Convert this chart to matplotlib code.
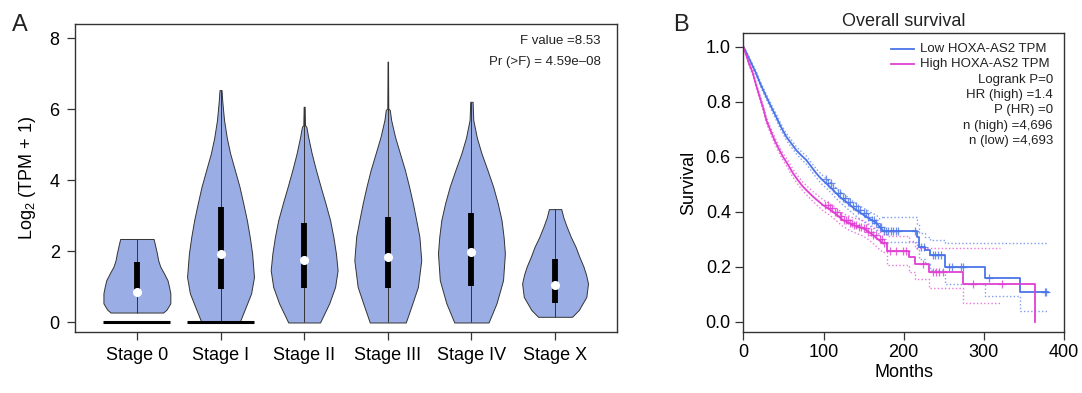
import numpy as np
import matplotlib
matplotlib.use("Agg")
import matplotlib.pyplot as plt

plt.rcParams["font.family"] = ["Liberation Sans", "DejaVu Sans"]
plt.rcParams["mathtext.fontset"] = "custom"
plt.rcParams["mathtext.rm"] = "Liberation Sans"

# ---- panel A: violin data (level, half-width) ----
stages = ["Stage 0", "Stage I", "Stage II", "Stage III", "Stage IV", "Stage X"]

v0_y = [0.28, 0.36, 0.54, 0.82, 1.00, 1.19, 1.40, 1.57, 1.75, 1.94, 2.15, 2.35]
v0_w = [0.314, 0.354, 0.40, 0.40, 0.385, 0.366, 0.32, 0.28, 0.255, 0.24, 0.22, 0.20]
v1_y = [0.00, 0.35, 0.82, 1.28, 1.94, 2.40, 2.88, 3.35, 3.82, 4.30, 4.76, 5.20, 5.70, 6.20, 6.54]
v1_w = [0.227, 0.287, 0.366, 0.40, 0.378, 0.35, 0.315, 0.272, 0.227, 0.17, 0.115, 0.075, 0.042, 0.022, 0.012]
v2_y = [0.00, 0.54, 1.00, 1.47, 1.94, 2.40, 2.88, 3.35, 3.82, 4.30, 4.76, 5.20, 5.51, 5.55, 6.07]
v2_w = [0.19, 0.30, 0.37, 0.40, 0.38, 0.35, 0.31, 0.255, 0.197, 0.14, 0.09, 0.05, 0.026, 0.01, 0.006]
v3_y = [0.00, 0.44, 1.00, 1.75, 2.41, 2.88, 3.35, 3.82, 4.29, 4.76, 5.23, 5.70, 5.98, 6.02, 6.70, 7.34]
v3_w = [0.215, 0.28, 0.36, 0.40, 0.378, 0.34, 0.30, 0.255, 0.205, 0.145, 0.086, 0.04, 0.024, 0.006, 0.004, 0.003]
v4_y = [0.00, 0.54, 1.19, 1.94, 2.40, 2.88, 3.35, 3.82, 4.30, 4.76, 5.20, 5.70, 6.21]
v4_w = [0.205, 0.30, 0.378, 0.40, 0.385, 0.36, 0.315, 0.26, 0.19, 0.12, 0.065, 0.022, 0.014]
v5_y = [0.16, 0.35, 0.72, 1.10, 1.35, 1.57, 1.85, 2.13, 2.40, 2.69, 2.95, 3.19]
v5_w = [0.203, 0.283, 0.374, 0.394, 0.37, 0.34, 0.29, 0.245, 0.19, 0.14, 0.10, 0.074]

q1 = [0.87, 0.93, 0.96, 0.96, 1.02, 0.54]
medians = [0.87, 1.94, 1.76, 1.85, 1.99, 1.05]
q3 = [1.71, 3.24, 2.79, 2.98, 3.07, 1.78]
zero_bar = [True, True, False, False, False, False]

# ---- panel B: Kaplan-Meier curves ----
low_t = [0, 2, 6, 10, 16, 22, 28.7, 35, 41, 47, 53.6, 60, 66, 72, 78.6, 85, 91, 97,
         103.5, 110, 116, 122, 128.5, 135, 141, 147, 153.4, 160, 166, 170, 174.6,
         216, 219, 227, 233, 251.6, 302, 345, 380]
low_s = [1.0, 0.99, 0.965, 0.94, 0.903, 0.86, 0.818, 0.78, 0.745, 0.708, 0.673, 0.648,
         0.624, 0.606, 0.588, 0.563, 0.54, 0.52, 0.503, 0.485, 0.467, 0.45, 0.436, 0.42,
         0.406, 0.394, 0.382, 0.37, 0.36, 0.345, 0.331, 0.307, 0.273, 0.26, 0.243, 0.2,
         0.159, 0.107, 0.107]
low_lo = [1.0, 0.988, 0.96, 0.934, 0.896, 0.852, 0.809, 0.77, 0.734, 0.697, 0.661, 0.635,
          0.611, 0.592, 0.573, 0.548, 0.524, 0.503, 0.486, 0.467, 0.448, 0.43, 0.415, 0.398,
          0.383, 0.37, 0.357, 0.344, 0.332, 0.316, 0.289, 0.262, 0.228, 0.21, 0.19, 0.136,
          0.092, 0.04, 0.04]
low_hi = [1.0, 0.992, 0.97, 0.946, 0.91, 0.868, 0.827, 0.79, 0.756, 0.719, 0.685, 0.661,
          0.637, 0.62, 0.603, 0.578, 0.556, 0.537, 0.52, 0.503, 0.486, 0.47, 0.457, 0.442,
          0.429, 0.418, 0.407, 0.396, 0.388, 0.374, 0.38, 0.355, 0.322, 0.31, 0.298, 0.285,
          0.285, 0.285, 0.285]
low_cens = [103, 106, 109, 112, 118, 121, 124, 127, 130, 133, 137, 140, 143, 146, 150,
            153, 156, 160, 163, 166, 170, 172, 176, 178, 181, 184, 187, 190, 193, 214,
            222, 225, 236, 239, 243, 247, 256, 260, 271, 274, 306, 376, 378]

high_t = [0, 3, 7, 12, 16, 20.4, 25, 28.7, 34, 39, 44, 49.5, 56, 62, 68, 74.5, 81, 87,
          93, 99.5, 106, 112, 118, 124.4, 131, 137, 143, 149.4, 156, 161.8, 168, 174.3,
          179, 207, 214, 232, 273.6, 320, 363.8]
high_s = [1.0, 0.975, 0.94, 0.903, 0.86, 0.818, 0.775, 0.733, 0.695, 0.66, 0.63, 0.60,
          0.57, 0.54, 0.515, 0.491, 0.472, 0.455, 0.44, 0.424, 0.412, 0.40, 0.385, 0.37,
          0.36, 0.352, 0.346, 0.34, 0.328, 0.315, 0.30, 0.285, 0.258, 0.236, 0.209, 0.18,
          0.136, 0.136, 0.0]
high_lo = [1.0, 0.97, 0.934, 0.896, 0.852, 0.809, 0.765, 0.722, 0.684, 0.648, 0.618,
           0.587, 0.556, 0.525, 0.5, 0.475, 0.455, 0.437, 0.421, 0.404, 0.391, 0.378,
           0.362, 0.346, 0.335, 0.326, 0.319, 0.312, 0.299, 0.285, 0.268, 0.252, 0.206,
           0.18, 0.154, 0.124, 0.067, np.nan, np.nan]
high_hi = [1.0, 0.98, 0.946, 0.91, 0.868, 0.827, 0.785, 0.744, 0.706, 0.672, 0.642,
           0.613, 0.584, 0.555, 0.53, 0.507, 0.489, 0.473, 0.459, 0.444, 0.433, 0.422,
           0.408, 0.394, 0.385, 0.378, 0.373, 0.368, 0.357, 0.345, 0.332, 0.318, 0.312,
           0.293, 0.27, 0.27, 0.27, np.nan, np.nan]
high_cens = [102, 105, 108, 111, 114, 117, 120, 122, 125, 128, 130, 133, 136, 138, 141,
             144, 147, 150, 153, 156, 159, 162, 165, 170, 173, 176, 183, 191, 199, 203,
             224, 236, 240, 244, 249, 287, 322]

# events are dense before this many months, so that part reads as a smooth curve
dense_until = 175

stats = ["Logrank P=0", "HR (high) =1.4", "P (HR) =0", "n (high) =4,696", "n (low) =4,693"]

violet = "#9aaee5"
edge = "#333333"
blue = "#4a74e8"
pink = "#e040d2"

fig = plt.figure(figsize=(10.82, 3.93), dpi=100)

# ================= panel A =================
axA = fig.add_axes([0.0693, 0.155, 0.5009, 0.784])
profiles = [(v0_y, v0_w), (v1_y, v1_w), (v2_y, v2_w), (v3_y, v3_w), (v4_y, v4_w), (v5_y, v5_w)]
for i, (vy, vw) in enumerate(profiles):
    vy = np.array(vy)
    vw = np.array(vw)
    axA.fill_betweenx(vy, i - vw, i + vw, facecolor=violet, edgecolor=edge, lw=0.7, zorder=2)
    axA.vlines(i, vy.min(), vy.max(), color=edge, lw=0.7, zorder=3)
    axA.vlines(i, q1[i], q3[i], color="black", lw=4.2, zorder=4)
    axA.plot(i, medians[i], "o", color="white", ms=5.5, mec="white", zorder=5)
    if zero_bar[i]:
        axA.hlines(0.02, i - 0.4, i + 0.4, color="black", lw=2.2, zorder=4)

axA.set_xlim(-0.74, 5.74)
axA.set_ylim(-0.27, 8.4)
axA.set_xticks(range(len(stages)))
axA.set_xticklabels(stages)
axA.set_yticks([0, 2, 4, 6, 8])
axA.set_ylabel(r"Log$_\mathregular{2}$ (TPM + 1)", fontsize=13, labelpad=8)
axA.tick_params(labelsize=13, length=6, width=0.9, color=edge, pad=5)
for sp in axA.spines.values():
    sp.set_color(edge)
    sp.set_linewidth(1.0)
axA.text(0.97, 0.945, "F value =8.53", transform=axA.transAxes, ha="right", va="center",
         fontsize=9.5, color="#222222")
axA.text(0.97, 0.878, "Pr (>F) = 4.59e\u201308", transform=axA.transAxes, ha="right",
         va="center", fontsize=9.5, color="#222222")
fig.text(0.011, 0.92, "A", fontsize=17, color="#222222")

# ================= panel B =================
axB = fig.add_axes([0.687, 0.156, 0.2964, 0.7593])
for t, s, lo, hi, cens, col in [(low_t, low_s, low_lo, low_hi, low_cens, blue),
                                (high_t, high_s, high_lo, high_hi, high_cens, pink)]:
    t = np.array(t)
    s = np.array(s)
    lo = np.array(lo)
    hi = np.array(hi)
    k = np.searchsorted(t, dense_until)
    dot = (0, (1, 1.6))
    for yv, style, w, a in [(lo, dot, 1.0, 0.7), (hi, dot, 1.0, 0.7), (s, "-", 1.3, 1.0)]:
        axB.plot(t[:k], yv[:k], color=col, lw=w, ls=style, alpha=a)
        axB.step(t[k - 1:], yv[k - 1:], where="post", color=col, lw=w, ls=style, alpha=a)
    idx = np.searchsorted(t, cens, side="right") - 1
    axB.plot(cens, s[idx], "+", color=col, ms=6, mew=0.9, alpha=0.8, ls="none")

axB.set_xlim(0, 400)
axB.set_ylim(-0.036, 1.049)
axB.set_xticks([0, 100, 200, 300, 400])
axB.set_yticks([0.0, 0.2, 0.4, 0.6, 0.8, 1.0])
axB.set_yticklabels(["0.0", "0.2", "0.4", "0.6", "0.8", "1.0"])
axB.set_xlabel("Months", fontsize=13, labelpad=2)
axB.set_ylabel("Survival", fontsize=13, labelpad=6)
axB.set_title("Overall survival", fontsize=13, pad=5, color="#222222")
axB.tick_params(labelsize=13, length=6, width=0.9, color=edge, pad=3)
for sp in axB.spines.values():
    sp.set_color(edge)
    sp.set_linewidth(1.0)

# legend drawn in axes coordinates
for k, (lab, col) in enumerate([("Low HOXA-AS2 TPM", blue), ("High HOXA-AS2 TPM", pink)]):
    yy = 0.947 - k * 0.051
    axB.plot([0.46, 0.532], [yy, yy], color=col, lw=1.3, transform=axB.transAxes)
    axB.text(0.552, yy, lab, transform=axB.transAxes, ha="left", va="center",
             fontsize=9.5, color="#222222")
for k, st in enumerate(stats):
    axB.text(0.965, 0.845 - k * 0.0515, st, transform=axB.transAxes, ha="right",
             va="center", fontsize=9.5, color="#222222")
fig.text(0.622, 0.92, "B", fontsize=17, color="#222222")

fig.savefig("out.png", dpi=100)
